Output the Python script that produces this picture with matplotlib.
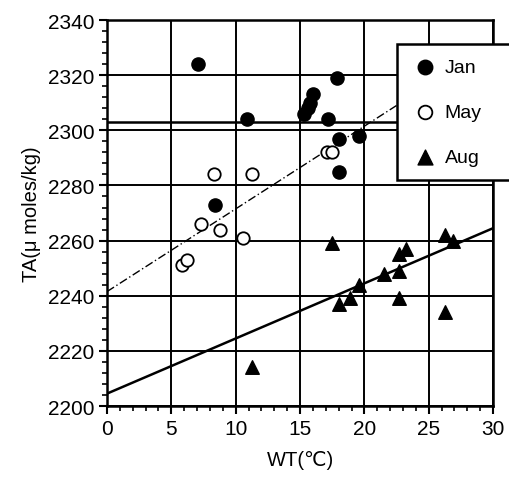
import numpy as np
import matplotlib
matplotlib.use("Agg")
import matplotlib.pyplot as plt
from matplotlib.ticker import MultipleLocator

plt.rcParams['font.family'] = ['Liberation Sans', 'DejaVu Sans']

# Jan: filled circles
jan_wt = [7.1, 10.9, 8.4, 15.3, 15.6, 15.8, 16.0, 17.2, 17.9, 18.0, 19.6, 18.0]
jan_ta = [2324, 2304, 2273, 2306, 2308, 2310, 2313, 2304, 2319, 2297, 2298, 2285]
# May: open circles
may_wt = [5.8, 6.2, 7.3, 8.3, 8.8, 10.6, 11.3, 17.1, 17.5]
may_ta = [2251, 2253, 2266, 2284, 2264, 2261, 2284, 2292, 2292]
# Aug: filled triangles
aug_wt = [11.3, 17.5, 18.0, 18.9, 19.6, 21.5, 22.7, 22.7, 22.7, 23.2, 26.3, 26.9, 26.3]
aug_ta = [2214, 2259, 2237, 2239, 2244, 2248, 2249, 2239, 2255, 2257, 2262, 2260, 2234]

# regression lines (intercept, slope, x range)
jan_fit = (2303.0, 0.0, 0, 30)
may_fit = (2241.5, 3.0, 0, 22.5)
aug_fit = (2204.5, 2.0, 0, 30)

fig = plt.figure(figsize=(5.1, 4.81), dpi=100)
ax = fig.add_axes([0.2098, 0.1538, 0.757, 0.8025])

for b, m, x0, x1 in [jan_fit, aug_fit]:
    xs = np.array([x0, x1])
    ax.plot(xs, b + m * xs, color='black', lw=1.8, zorder=3)
b, m, x0, x1 = may_fit
xs = np.array([x0, x1])
ax.plot(xs, b + m * xs, color='black', lw=1.0, ls=(0, (6, 2, 1, 2)), zorder=3)

ax.scatter(jan_wt, jan_ta, s=90, marker='o', color='black', zorder=4, label='Jan')
ax.scatter(may_wt, may_ta, s=80, marker='o', facecolors='white', edgecolors='black',
           linewidths=1.3, zorder=4, label='May')
ax.scatter(aug_wt, aug_ta, s=95, marker='^', color='black', zorder=4, label='Aug')

ax.set_xlim(0, 30)
ax.set_ylim(2200, 2340)
ax.xaxis.set_major_locator(MultipleLocator(5))
ax.xaxis.set_minor_locator(MultipleLocator(1))
ax.yaxis.set_major_locator(MultipleLocator(20))
ax.yaxis.set_minor_locator(MultipleLocator(4))
ax.grid(True, which='major', color='black', lw=1.4)
ax.set_axisbelow(True)
for s in ax.spines.values():
    s.set_linewidth(1.8)
ax.tick_params(which='major', direction='out', length=6, width=1.5, labelsize=15, pad=3)
ax.tick_params(which='minor', direction='out', length=3.5, width=1.2)

ax.set_xlabel('WT(℃)', fontsize=14.5, labelpad=9)
ax.set_ylabel('TA(μ moles/kg)', fontsize=14.5, labelpad=5)

leg = ax.legend(loc='upper left', bbox_to_anchor=(0.751, 0.596, 0.293, 0.342),
                mode='expand', fontsize=14, labelspacing=1.4, handletextpad=0.3,
                handlelength=1.4, borderpad=0.75, frameon=True, fancybox=False,
                edgecolor='black', framealpha=1, borderaxespad=0, markerscale=1.1)
leg.get_frame().set_linewidth(1.8)
leg.set_zorder(10)

fig.savefig('out.png', dpi=100)
